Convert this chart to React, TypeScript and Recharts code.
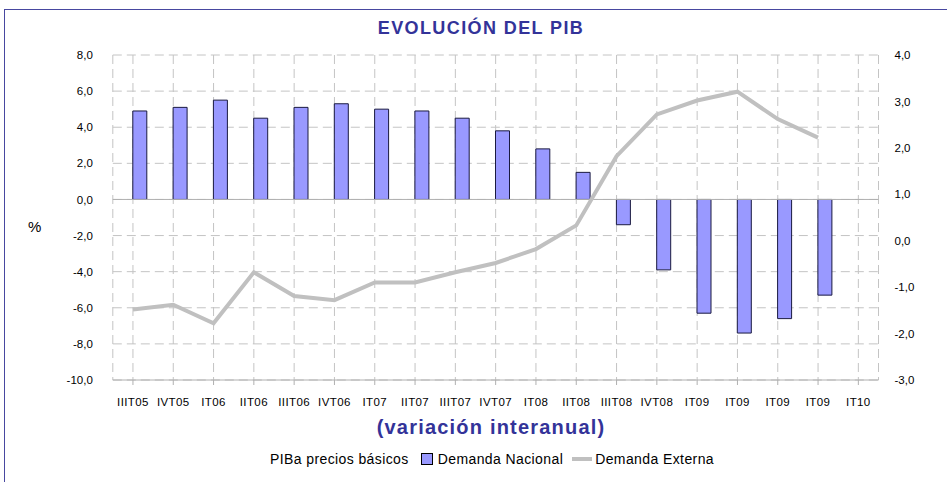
import React from 'react';
import {
  ComposedChart, Bar, Line, XAxis, YAxis, CartesianGrid, ReferenceLine,
} from 'recharts';

const categories = [
  'IIIT05', 'IVT05', 'IT06', 'IIT06', 'IIIT06', 'IVT06', 'IT07', 'IIT07', 'IIIT07', 'IVT07',
  'IT08', 'IIT08', 'IIIT08', 'IVT08', 'IT09', 'IT09', 'IT09', 'IT09', 'IT10',
];
const demandaNacional: (number | null)[] = [
  4.9, 5.1, 5.5, 4.5, 5.1, 5.3, 5.0, 4.9, 4.5, 3.8,
  2.8, 1.5, -1.4, -3.9, -6.3, -7.4, -6.6, -5.3, null,
];
const demandaExterna: (number | null)[] = [
  -1.48, -1.38, -1.78, -0.68, -1.19, -1.28, -0.9, -0.9, -0.68, -0.48,
  -0.18, 0.33, 1.82, 2.72, 3.02, 3.21, 2.62, 2.22, null,
];
const leftTicks = [-10, -8, -6, -4, -2, 0, 2, 4, 6, 8];
const rightTicks = [-3, -2, -1, 0, 1, 2, 3, 4];

const data = categories.map((c, i) => ({
  cat: c,
  pib: null,
  nacional: demandaNacional[i],
  externa: demandaExterna[i],
}));

const fmt = (v: number) => v.toFixed(1).replace('.', ',');
const FONT = '"Liberation Sans", Arial, sans-serif';
const NAVY = '#333399';

const LegendContent = () => (
  <div style={{ display: 'flex', justifyContent: 'center', alignItems: 'center', fontFamily: FONT, fontSize: 14, letterSpacing: 0.4, color: '#000' }}>
    <span style={{ marginRight: 12 }}>PIBa precios básicos</span>
    <span style={{ display: 'inline-block', width: 12, height: 12, background: '#9999FF', border: '1px solid #000', marginRight: 5, boxSizing: 'border-box' }} />
    <span style={{ marginRight: 9 }}>Demanda Nacional</span>
    <span style={{ display: 'inline-block', width: 20, height: 4, background: '#C0C0C0', marginRight: 3 }} />
    <span>Demanda Externa</span>
  </div>
);

export default function App() {
  return (
    <div style={{ position: 'absolute', left: 0, top: 0, width: 947, height: 482, overflow: 'hidden', background: '#fff' }}>
      <div style={{ position: 'absolute', left: 4, top: 9, width: 960, height: 500, border: '1px solid #4848a0', boxSizing: 'border-box' }} />
      <div style={{ position: 'absolute', left: 0, top: 18, width: 962, textAlign: 'center', fontFamily: FONT, fontWeight: 'bold', fontSize: 18, color: NAVY, letterSpacing: 1.4 }}>
        EVOLUCIÓN DEL PIB
      </div>
      <div style={{ position: 'absolute', left: 28, top: 218, fontFamily: FONT, fontSize: 15, color: '#000' }}>%</div>
      <div style={{ position: 'absolute', left: 0, top: 416, width: 982, textAlign: 'center', fontFamily: FONT, fontWeight: 'bold', fontSize: 20, color: NAVY, letterSpacing: 1.2 }}>
        (variación interanual)
      </div>
      <div style={{ position: 'absolute', left: 0, top: 0 }}>
        <ComposedChart
          width={947}
          height={482}
          data={data}
          margin={{ top: 55, right: 0, bottom: 72, left: 0 }}
          barGap={0}
        >
          <CartesianGrid yAxisId="left" stroke="#c4c4c4" strokeDasharray="9 5" />
          <XAxis
            dataKey="cat"
            height={30}
            interval={0}
            tickSize={5}
            tickMargin={13}
            stroke="#b0b0b0"
            tick={{ fill: '#000', fontSize: 11.5, fontFamily: FONT, letterSpacing: 0.4 }}
          />
          <YAxis
            yAxisId="left"
            orientation="left"
            width={112.8}
            domain={[-10, 8]}
            ticks={leftTicks}
            tickFormatter={fmt}
            axisLine={false}
            tickLine={false}
            tickSize={0}
            tickMargin={20}
            tick={{ fill: '#000', fontSize: 11.5, fontFamily: FONT }}
          />
          <YAxis
            yAxisId="right"
            orientation="right"
            width={68.5}
            domain={[-3, 4]}
            ticks={rightTicks}
            tickFormatter={fmt}
            axisLine={false}
            tickLine={false}
            tickSize={0}
            tickMargin={16}
            tick={{ fill: '#000', fontSize: 11.5, fontFamily: FONT }}
          />
          <ReferenceLine yAxisId="left" y={0} stroke="#b0b0b0" strokeWidth={1} />
          <Bar yAxisId="left" dataKey="pib" name="PIBa precios básicos" fill="none" barSize={14} isAnimationActive={false} />
          <Bar yAxisId="left" dataKey="nacional" name="Demanda Nacional" fill="#9999FF" stroke="#1a1a40" strokeWidth={1} barSize={14} isAnimationActive={false} />
          <Line yAxisId="right" dataKey="externa" name="Demanda Externa" stroke="#C0C0C0" strokeWidth={4} dot={false} activeDot={false} isAnimationActive={false} />
        </ComposedChart>
      </div>
      <div style={{ position: 'absolute', left: 0, top: 451, width: 984 }}>
        <LegendContent />
      </div>
    </div>
  );
}
